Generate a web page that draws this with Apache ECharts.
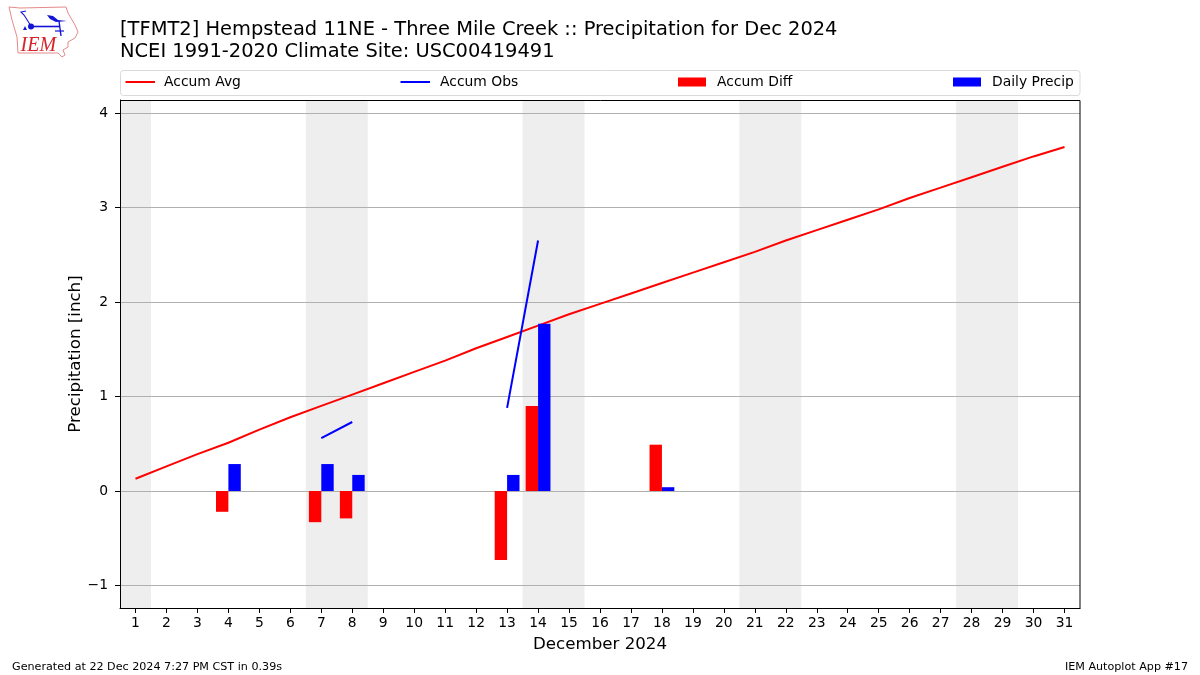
<!DOCTYPE html>
<html><head><meta charset="utf-8">
<style>html,body{margin:0;padding:0;background:#fff}#c{width:1200px;height:675px}</style>
<script src="https://cdn.jsdelivr.net/npm/echarts@6/dist/echarts.min.js"></script>
</head><body><div id="c"></div>
<script>
const days = ['1','2','3','4','5','6','7','8','9','10','11','12','13','14','15','16','17','18','19','20','21','22','23','24','25','26','27','28','29','30','31'];
const weekendSpans = [['1','1'],['7','8'],['14','15'],['21','22'],['28','29']];
const yTicks = [-1,0,1,2,3,4];
const accumAvg = [0.13,0.26,0.39,0.51,0.65,0.78,0.90,1.02,1.14,1.26,1.38,1.51,1.63,1.75,1.87,1.98,2.09,2.20,2.31,2.42,2.53,2.65,2.76,2.87,2.98,3.10,3.21,3.32,3.43,3.54,3.64];
const accumObs = [null,null,null,null,null,null,0.56,0.73,null,null,null,null,0.88,2.65,null,null,null,null,null,null,null,null,null,null,null,null,null,null,null,null,null];
const accumDiff = [null,null,null,-0.22,null,null,-0.33,-0.29,null,null,null,null,-0.73,0.90,null,null,null,0.49,null,null,null,null,null,null,null,null,null,null,null,null,null];
const dailyPrecip = [null,null,null,0.285,null,null,0.285,0.17,null,null,null,null,0.17,1.77,null,null,null,0.04,null,null,null,null,null,null,null,null,null,null,null,null,null];
const titleLines = '[TFMT2] Hempstead 11NE - Three Mile Creek :: Precipitation for Dec 2024\nNCEI 1991-2020 Climate Site: USC00419491';
const font = 'DejaVu Sans';
const legendAt = [['Accum Avg',125.5,29.5,2,4],['Accum Obs',400.5,29.5,2,5],['Accum Diff',678,28,9,6],['Daily Precip',953,28,9,6]];

const chart = echarts.init(document.getElementById('c'), null, {renderer:'canvas'});
const logoOutline = [[9,7],[20,8],[66,7],[68,13],[75,25],[78,32],[75,38],[68,42],[68,47],[63,50],[65,55],[62,57],[58,53],[18,53],[17,37],[12,20]];
const blue = '#1414d8';
chart.setOption({
  animation:false,
  backgroundColor:'#fff',
  textStyle:{fontFamily:font},
  title:{left:120,top:19,padding:0,text:titleLines,textStyle:{fontFamily:font,fontWeight:'normal',fontSize:19.46,lineHeight:22,color:'#000'}},
  grid:{left:120,right:120,top:100,bottom:67,show:false},
  legend:legendAt.map(([n,x,w,h,pad])=>({
    data:[{name:n,icon:'rect'}],left:x,top:75,itemWidth:w,itemHeight:h,padding:0,
    textStyle:{fontFamily:font,fontSize:13.89,color:'#000',padding:[0,0,0,pad]},selectedMode:false
  })),
  xAxis:{type:'category',data:days,name:'December 2024',nameLocation:'middle',nameGap:28.5,
    nameTextStyle:{fontSize:16.67,color:'#000',fontFamily:font},
    axisLine:{show:true,onZero:false,lineStyle:{color:'#000',width:1}},
    axisTick:{show:true,alignWithLabel:true,interval:0,length:5,lineStyle:{color:'#000',width:1}},
    axisLabel:{interval:0,fontSize:13.89,color:'#000',margin:8.5,fontFamily:font},
    splitLine:{show:false},z:1},
  yAxis:{type:'value',min:-1.238,max:4.137,name:'Precipitation [inch]',nameLocation:'middle',nameGap:36,nameMoveOverlap:false,
    nameTextStyle:{fontSize:16.67,color:'#000',fontFamily:font},
    axisLine:{show:true,lineStyle:{color:'#000',width:1}},
    axisTick:{show:true,length:5,lineStyle:{color:'#000',width:1},customValues:yTicks},
    axisLabel:{fontSize:13.89,color:'#000',margin:12,fontFamily:font,padding:[5,0,0,0],customValues:yTicks,showMinLabel:true,showMaxLabel:true,
      formatter:v=>String(v).replace('-','\u2212')},
    splitLine:{show:true,lineStyle:{color:'#b0b0b0',width:1},showMinLine:true,showMaxLine:true},z:1},
  series:[
    {type:'custom',name:'weekend',silent:true,z:0,data:weekendSpans,encode:{x:[0,1]},clip:true,
      renderItem:(p,api)=>{
        const a=api.coord([api.value(0),0]),b=api.coord([api.value(1),0]),w=api.size([1,0])[0];
        return {type:'rect',shape:{x:a[0]-w/2,y:p.coordSys.y,width:b[0]-a[0]+w,height:p.coordSys.height},style:{fill:'#eeeeee'}};
      }},
    {type:'line',name:'Accum Avg',data:accumAvg,showSymbol:false,symbol:'none',z:3,lineStyle:{color:'#ff0000',width:2},itemStyle:{color:'#ff0000'}},
    {type:'line',name:'Accum Obs',data:accumObs,showSymbol:false,symbol:'none',connectNulls:false,z:3,lineStyle:{color:'#0000ff',width:2},itemStyle:{color:'#0000ff'}},
    {type:'bar',name:'Accum Diff',data:accumDiff,barWidth:12.4,barGap:0,z:4,itemStyle:{color:'#ff0000'}},
    {type:'bar',name:'Daily Precip',data:dailyPrecip,barWidth:12.4,barGap:0,z:4,itemStyle:{color:'#0000ff'}}
  ],
  graphic:[
    {type:'rect',z:-1,silent:true,shape:{x:120.5,y:70.5,width:959.5,height:25,r:3},style:{fill:'#fff',stroke:'#d9d9d9',lineWidth:1}},
    {type:'rect',z:50,silent:true,shape:{x:120.5,y:100.5,width:959.5,height:508},style:{fill:null,stroke:'#000',lineWidth:1}},
    {type:'polygon',silent:true,shape:{points:logoOutline},style:{fill:'#fff',stroke:'#e58a8a',lineWidth:1}},
    {type:'text',silent:true,style:{x:20.5,y:36,text:'IEM',fill:'#d8232a',font:'italic 20px "Liberation Serif"'}},
    {type:'polyline',silent:true,shape:{points:[[31,26.5],[60,26.5]]},style:{stroke:blue,lineWidth:1.6}},
    {type:'polyline',silent:true,shape:{points:[[31,26],[24,15],[21,12],[26,11]]},style:{stroke:blue,lineWidth:1.1}},
    {type:'polyline',silent:true,shape:{points:[[59,21],[61,36]]},style:{stroke:blue,lineWidth:1.4}},
    {type:'polyline',silent:true,shape:{points:[[55,31],[64,31]]},style:{stroke:blue,lineWidth:1.2}},
    {type:'polygon',silent:true,shape:{points:[[47,15],[53,16],[58,20],[67,21],[56,22],[50,19]]},style:{fill:blue}},
    {type:'circle',silent:true,shape:{cx:31,cy:26.5,r:3},style:{fill:blue}},
    {type:'polygon',silent:true,shape:{points:[[23,30],[27,30],[25,26]]},style:{fill:blue}},
    {type:'text',silent:true,style:{x:12,y:662,text:'Generated at 22 Dec 2024 7:27 PM CST in 0.39s',fill:'#000',font:'11.15px "DejaVu Sans"'}},
    {type:'text',silent:true,style:{x:1188,y:662,align:'right',text:'IEM Autoplot App #17',fill:'#000',font:'11.15px "DejaVu Sans"'}}
  ]
});
</script></body></html>
